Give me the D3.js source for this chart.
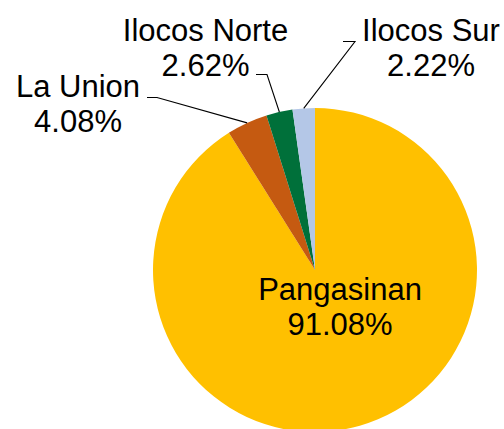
<!DOCTYPE html>
<html>
<head>
<meta charset="utf-8">
<script src="https://cdn.jsdelivr.net/npm/d3@7"></script>
<style>
  html, body { margin: 0; padding: 0; background: #fff; }
  svg { display: block; }
</style>
</head>
<body>
<svg id="chart" width="504" height="429"></svg>
<script>
const categories = ["Pangasinan", "La Union", "Ilocos Norte", "Ilocos Sur"];
const values = [91.08, 4.08, 2.62, 2.22];
const valueLabels = ["91.08%", "4.08%", "2.62%", "2.22%"];
const colors = ["#FFC000", "#C55A11", "#00703A", "#B4C7E7"];

// layout (label anchor positions: text center x, first-line baseline y; leader elbow)
const labelLayout = [
  { x: 340, y: 300, leader: null },
  { x: 78, y: 97, leader: { x0: 147, x1: 157, y: 97.5 } },
  { x: 205.5, y: 40.5, leader: { x0: 256, x1: 267, y: 74.5 } },
  { x: 431, y: 40.5, leader: { x0: 343, x1: 355, y: 41.5 } }
];

const svg = d3.select("#chart");
const cx = 315, cy = 270, R = 162;
const g = svg.append("g").attr("transform", `translate(${cx},${cy})`);

const pie = d3.pie().sort(null).value(d => d.value);
const data = categories.map((c, i) => ({ name: c, value: values[i], label: valueLabels[i], color: colors[i], layout: labelLayout[i] }));
const arcs = pie(data);
const arc = d3.arc().innerRadius(0).outerRadius(R);

g.selectAll("path.slice")
  .data(arcs)
  .enter().append("path")
  .attr("class", "slice")
  .attr("d", arc)
  .attr("fill", d => d.data.color)
  .attr("stroke", "none");

// leader lines
arcs.forEach(a => {
  const L = a.data.layout.leader;
  if (!L) return;
  const mid = (a.startAngle + a.endAngle) / 2;
  const ex = cx + R * Math.sin(mid);
  const ey = cy - R * Math.cos(mid);
  svg.append("polyline")
    .attr("points", `${L.x0},${L.y} ${L.x1},${L.y} ${ex},${ey}`)
    .attr("fill", "none")
    .attr("stroke", "#000")
    .attr("stroke-width", 1.1);
});

// labels
arcs.forEach(a => {
  const lay = a.data.layout;
  const t = svg.append("text")
    .attr("x", lay.x)
    .attr("y", lay.y)
    .attr("text-anchor", "middle")
    .attr("font-family", "'Liberation Sans', Arial, sans-serif")
    .attr("font-size", 31)
    .attr("fill", "#000");
  t.append("tspan").attr("x", lay.x).attr("y", lay.y).text(a.data.name);
  t.append("tspan").attr("x", lay.x).attr("y", lay.y + 35).text(a.data.label);
});
</script>
</body>
</html>
